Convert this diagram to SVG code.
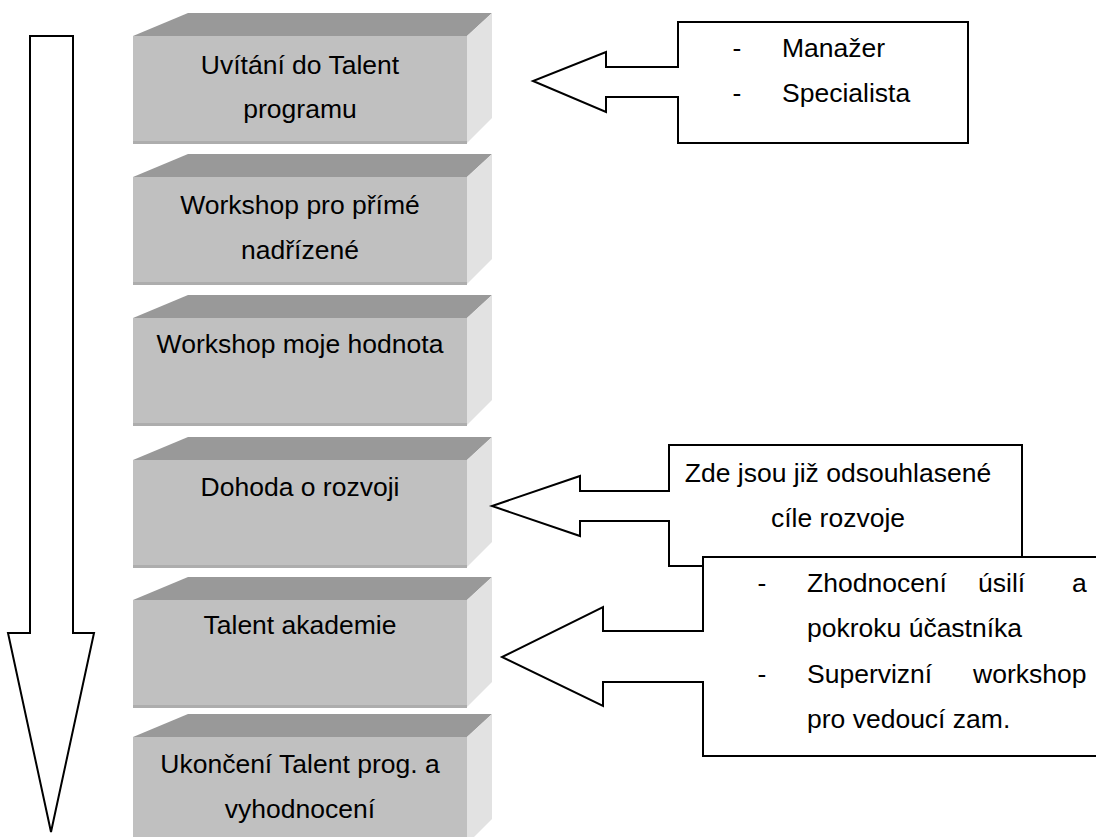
<svg xmlns="http://www.w3.org/2000/svg" xmlns:xlink="http://www.w3.org/1999/xlink" width="1096" height="837" viewBox="0 0 1096 837">
  <style>
    .lbl { font-family: "Liberation Sans", Arial, sans-serif; font-size: 26.5px; fill: #000; }
    .mid { text-anchor: middle; }
    .outline { fill: #fff; stroke: #000; stroke-width: 2; stroke-linejoin: miter; }
  </style>
  <defs>
    <!-- bevelled step block; origin at the back edge of its top face -->
    <g id="block">
      <polygon points="133,23 188,0 492,0 467,23" fill="#999999"/>
      <polygon points="467,23 492,0 492,105 467,130" fill="#e2e2e2"/>
      <rect x="133" y="23" width="334" height="108" fill="#c0c0c0"/>
      <rect x="133" y="128" width="334" height="3" fill="#adadad"/>
    </g>
  </defs>

  <rect width="1096" height="837" fill="#fff"/>

  <!-- timeline arrow -->
  <g id="timeline">
    <path class="outline" d="M30,36 H73 V633 H94 L51,832 L8,633 H30 Z"/>
  </g>

  <!-- steps -->
  <g id="step1" transform="translate(0,13)">
    <use xlink:href="#block"/>
    <text class="lbl mid" x="300" y="61">Uvítání do Talent</text>
    <text class="lbl mid" x="300" y="105">programu</text>
  </g>
  <g id="step2" transform="translate(0,154)">
    <use xlink:href="#block"/>
    <text class="lbl mid" x="300" y="60">Workshop pro přímé</text>
    <text class="lbl mid" x="300" y="105">nadřízené</text>
  </g>
  <g id="step3" transform="translate(0,295)">
    <use xlink:href="#block"/>
    <text class="lbl mid" x="300" y="58">Workshop moje hodnota</text>
  </g>
  <g id="step4" transform="translate(0,437)">
    <use xlink:href="#block"/>
    <text class="lbl mid" x="300" y="59">Dohoda o rozvoji</text>
  </g>
  <g id="step5" transform="translate(0,577)">
    <use xlink:href="#block"/>
    <text class="lbl mid" x="300" y="57">Talent akademie</text>
  </g>
  <g id="step6" transform="translate(0,714)">
    <use xlink:href="#block"/>
    <text class="lbl mid" x="300" y="59">Ukončení Talent prog. a</text>
    <text class="lbl mid" x="300" y="104">vyhodnocení</text>
  </g>

  <!-- callouts pointing at steps -->
  <g id="connectors">
    <g id="note-roles">
      <path class="outline" d="M678,22 H968 V143 H678 V97 H606 V112 L533,81 L606,52 V67 H678 Z"/>
      <text class="lbl mid" x="737" y="57">-</text>
      <text class="lbl" x="782" y="57">Manažer</text>
      <text class="lbl mid" x="737" y="102">-</text>
      <text class="lbl" x="782" y="102">Specialista</text>
    </g>
    <g id="note-goals">
      <path class="outline" d="M669,445 H1022 V566 H669 V521 H580 V536 L492,506 L580,476 V491 H669 Z"/>
      <text class="lbl mid" x="838" y="482">Zde jsou již odsouhlasené</text>
      <text class="lbl mid" x="838" y="527">cíle rozvoje</text>
    </g>
    <g id="note-review">
      <path class="outline" d="M703,557 H1110 V756 H703 V682 H603 V706 L502,657 L603,607 V631 H703 Z"/>
      <text class="lbl mid" x="762" y="592">-</text>
      <text class="lbl" x="807" y="592">Zhodnocení</text>
      <text class="lbl" x="978" y="592">úsilí</text>
      <text class="lbl" x="1072" y="592">a</text>
      <text class="lbl" x="807" y="637">pokroku účastníka</text>
      <text class="lbl mid" x="762" y="683">-</text>
      <text class="lbl" x="807" y="683">Supervizní</text>
      <text class="lbl" x="973" y="683">workshop</text>
      <text class="lbl" x="807" y="728">pro vedoucí zam.</text>
    </g>
  </g>
</svg>
